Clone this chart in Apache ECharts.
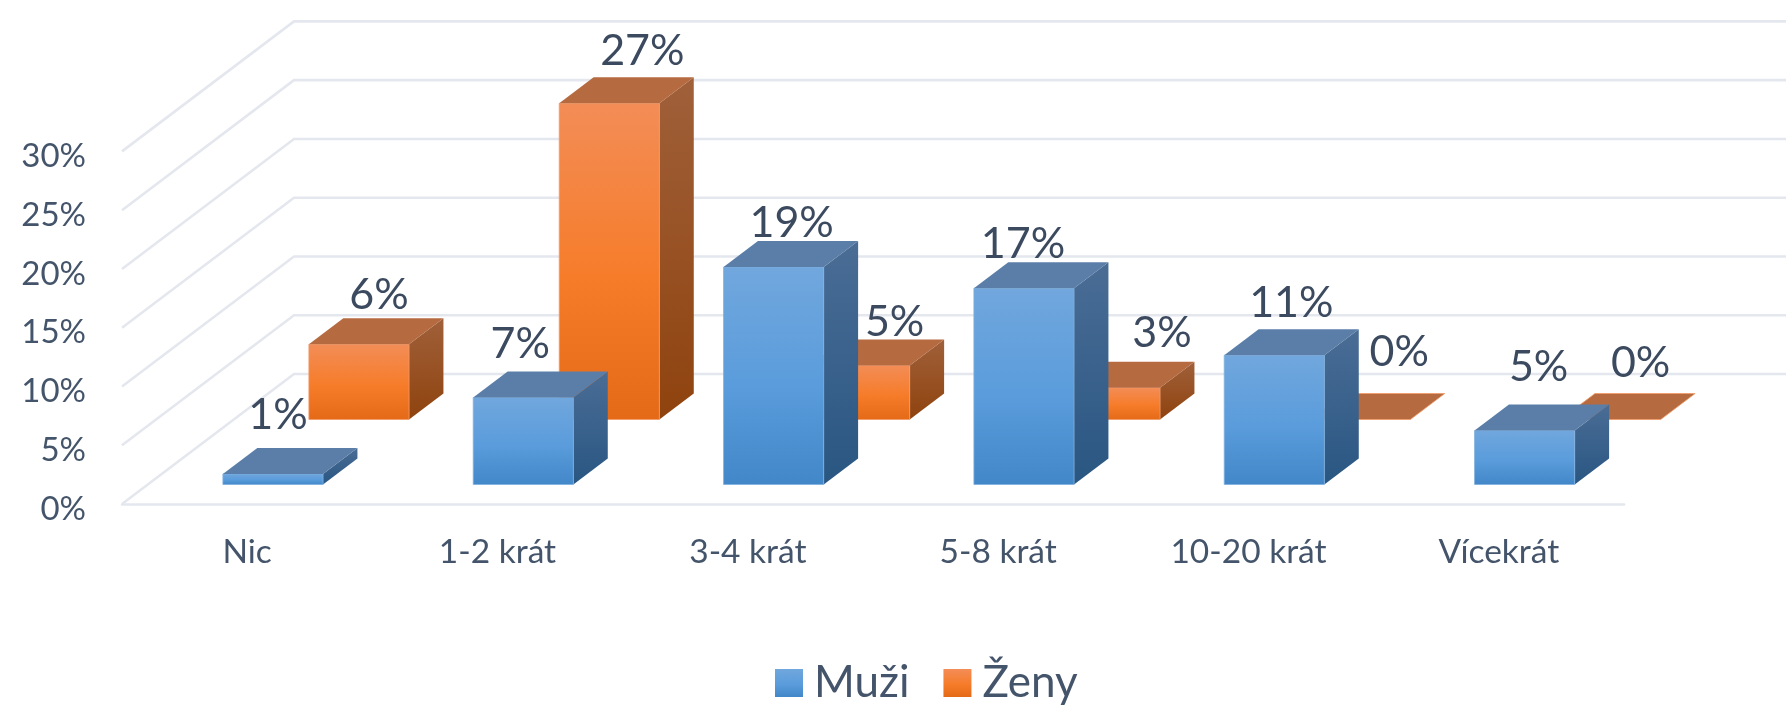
<!DOCTYPE html>
<html>
<head>
<meta charset="utf-8">
<style>html,body{margin:0;padding:0;background:#fff}#c{width:1786px;height:708px}</style>
<script src="https://cdn.jsdelivr.net/npm/echarts@6/dist/echarts.min.js"></script>
</head>
<body>
<div id="c"></div>
<script>
const categories = ['Nic', '1-2 krát', '3-4 krát', '5-8 krát', '10-20 krát', 'Vícekrát'];
const muzi = [0.9, 7.4, 18.5, 16.7, 11.0, 4.6];
const zeny = [6.4, 26.9, 4.6, 2.7, 0, 0];
const valueTicks = [0, 5, 10, 15, 20, 25, 30];
// label nudges relative to the bar's front-top centre (style only)
const muziLabelNudge = [[5, -59], [-3, -53], [18, -44], [-1, -44], [17, -52], [14, -63]];
const zenyLabelNudge = [[20, -49], [33, -52], [35, -43], [52, -55], [39, -67], [30, -56]];

const DEPTH_X = 172, DEPTH_Y = 130;
const BAR_W = 0.4, BAR_D = 0.2;
const FONT = 'Lato, Carlito, sans-serif';
const lin = (a, b, c) => ({type: 'linear', x: 0, y: 0, x2: 0, y2: 1,
  colorStops: c ? [{offset: 0, color: a}, {offset: 0.55, color: b}, {offset: 1, color: c}]
                : [{offset: 0, color: a}, {offset: 1, color: b}]});
const blueStyle = {front: lin('#71a7dd', '#5a9cdc', '#4287c8'), top: '#5a7ea8', side: lin('#4a6d95', '#295682'), edge: '#7fb0e0'};
const orangeStyle = {front: lin('#f38d57', '#f67c2a', '#e56a17'), top: '#b66a40', side: lin('#a0603a', '#8f430e'), edge: '#f29a68'};

function barSeries(name, values, depthStart, st, nudges) {
  return {
    name, type: 'custom', coordinateSystem: 'cartesian2d', clip: false,
    itemStyle: {color: st.front},
    data: values.map((v, i) => [i, v]),
    encode: {x: 0, y: 1},
    renderItem(params, api) {
      const i = api.value(0), v = api.value(1);
      const base = api.coord([i, 0]), top = api.coord([i, v]);
      const band = api.size([1, 0])[0];
      const w = band * BAR_W;
      const sx = DEPTH_X * depthStart, sy = DEPTH_Y * depthStart;
      const dx = DEPTH_X * BAR_D, dy = DEPTH_Y * BAR_D;
      const x0 = base[0] + sx - w / 2, x1 = x0 + w;
      const yb = base[1] - sy, yt = top[1] - sy;
      const n = nudges[i];
      const poly = (points, fill, stroke) => ({type: 'polygon', shape: {points},
        style: {fill, stroke: stroke || fill, lineWidth: 0.8}});
      const children = [];
      if (yb - yt > 0.5) {
        children.push(poly([[x1, yt], [x1 + dx, yt - dy], [x1 + dx, yb - dy], [x1, yb]], st.side, 'rgba(0,0,0,0)'));
        children.push(poly([[x0, yt], [x1, yt], [x1, yb], [x0, yb]], st.front, st.edge));
      }
      children.push(poly([[x0, yt], [x1, yt], [x1 + dx, yt - dy], [x0 + dx, yt - dy]], st.top,
        yb - yt > 0.5 ? 'rgba(0,0,0,0)' : st.edge));
      children.push({type: 'text', z2: 100, style: {
        text: Math.round(v) + '%', x: (x0 + x1) / 2 + n[0], y: yt + n[1],
        align: 'center', verticalAlign: 'middle',
        font: '43px ' + FONT, fill: '#3c4a60'}});
      return {type: 'group', children};
    }
  };
}

const gridSeries = {
  name: 'mřížka', type: 'custom', coordinateSystem: 'cartesian2d', clip: false, silent: true,
  data: valueTicks.map(t => [0, t]),
  encode: {x: 0, y: 1},
  renderItem(params, api) {
    const t = api.value(1);
    const band = api.size([1, 0])[0];
    const p = api.coord([0, t]);
    const left = p[0] - band / 2;
    const right = left + band * categories.length;
    return {type: 'polyline', shape: {points: [[left, p[1]], [left + DEPTH_X, p[1] - DEPTH_Y], [right + DEPTH_X, p[1] - DEPTH_Y]]},
      style: {stroke: '#e4e7ee', lineWidth: 2.6, fill: 'none'}};
  }
};

const chart = echarts.init(document.getElementById('c'));
chart.setOption({
  animation: false,
  backgroundColor: '#fff',
  grid: {left: 122, right: 162, top: 151.4, bottom: 204},
  xAxis: {
    type: 'category', data: categories,
    axisTick: {show: false},
    axisLine: {lineStyle: {color: '#e4e7ee', width: 2.6}},
    axisLabel: {margin: 31, color: '#44546a', fontSize: 33.5, fontFamily: FONT, interval: 0},
    splitLine: {show: false}
  },
  yAxis: {
    type: 'value', min: 0, max: 30, interval: 5,
    axisLine: {show: false}, axisTick: {show: false}, splitLine: {show: false},
    axisLabel: {margin: 36, color: '#44546a', fontSize: 33, fontFamily: FONT, formatter: '{value}%', verticalAlign: 'top', lineHeight: 10}
  },
  legend: {
    data: ['Muži', 'Ženy'], left: 770, top: 656, itemWidth: 28, itemHeight: 28, itemGap: 34,
    icon: 'rect',
    textStyle: {color: '#44546a', fontSize: 44, fontFamily: FONT, padding: [0, 0, 0, 6]}
  },
  series: [
    gridSeries,
    barSeries('Ženy', zeny, 0.65, orangeStyle, zenyLabelNudge),
    barSeries('Muži', muzi, 0.15, blueStyle, muziLabelNudge)
  ]
});
</script>
</body>
</html>
